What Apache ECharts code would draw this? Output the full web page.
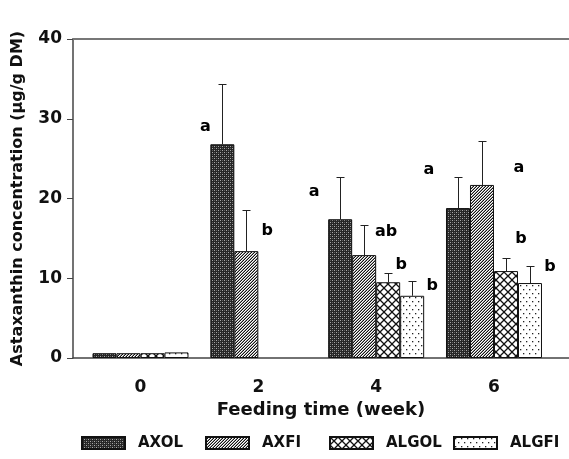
<!DOCTYPE html>
<html>
<head>
<meta charset="utf-8">
<script src="https://cdn.jsdelivr.net/npm/echarts@6/dist/echarts.min.js"></script>
<style>
html,body{margin:0;padding:0;background:#fff;}
#chart{width:569px;height:459px;}
</style>
</head>
<body>
<div id="chart"></div>
<script>
// ---- data ----
const weeks = [0, 2, 4, 6];
const weekLabels = ['0', '2', '4', '6'];
const seriesNames = ['AXOL', 'AXFI', 'ALGOL', 'ALGFI'];
const axol = [0.6, 26.8, 17.4, 18.8];
const axolErr = [0, 7.6, 5.3, 3.9];
const axfi = [0.6, 13.4, 12.9, 21.7];
const axfiErr = [0, 5.2, 3.8, 5.5];
const algol = [0.6, null, 9.5, 10.9];
const algolErr = [0, null, 1.1, 1.6];
const algfi = [0.7, null, 7.8, 9.4];
const algfiErr = [0, null, 1.9, 2.1];
const yTicks = [0, 10, 20, 30, 40];

// significance letters: text, week group, y level (data units)
const letterText = ['a', 'b', 'a', 'ab', 'b', 'b', 'a', 'a', 'b', 'b'];
const letterWeek = [2, 2, 4, 4, 4, 4, 6, 6, 6, 6];
const letterLevel = [29.0, 15.9, 20.8, 15.8, 11.7, 9.0, 23.6, 23.8, 15.0, 11.4];

// ---- style ----
const letterDx = [-53, 9, -62, 10, 25, 56, -65, 25, 27, 56];
const BAR_W = 24;
const FONT = '"DejaVu Sans", Verdana, sans-serif';
const X_MIN = -1.1456, X_MAX = 7.273;

function makePattern(w, h, draw) {
  const c = document.createElement('canvas');
  c.width = w; c.height = h;
  const ctx = c.getContext('2d');
  draw(ctx, w, h);
  return { image: c, repeat: 'repeat' };
}
const patAXOL = makePattern(4, 4, (ctx) => {
  ctx.fillStyle = '#262626'; ctx.fillRect(0, 0, 4, 4);
  ctx.fillStyle = '#a8a8a8'; ctx.fillRect(0, 0, 1, 1); ctx.fillRect(2, 2, 1, 1);
  ctx.fillStyle = '#606060'; ctx.fillRect(2, 0, 1, 1); ctx.fillRect(0, 2, 1, 1);
});
const patAXFI = makePattern(3, 3, (ctx) => {
  ctx.fillStyle = '#ffffff'; ctx.fillRect(0, 0, 3, 3);
  for (let x = 0; x < 3; x++) for (let y = 0; y < 3; y++) {
    const k = (x + y) % 3;
    if (k === 2) { ctx.fillStyle = '#111'; ctx.fillRect(x, y, 1, 1); }
    else if (k === 1) { ctx.fillStyle = '#9a9a9a'; ctx.fillRect(x, y, 1, 1); }
  }
});
const patALGOL = makePattern(8, 8, (ctx) => {
  ctx.fillStyle = '#ffffff'; ctx.fillRect(0, 0, 8, 8);
  ctx.strokeStyle = '#111'; ctx.lineWidth = 1.3;
  ctx.beginPath();
  ctx.moveTo(-1, -1); ctx.lineTo(9, 9);
  ctx.moveTo(9, -1); ctx.lineTo(-1, 9);
  ctx.stroke();
});
const patALGFI = makePattern(6, 8, (ctx) => {
  ctx.fillStyle = '#ffffff'; ctx.fillRect(0, 0, 6, 8);
  ctx.fillStyle = '#222';
  ctx.fillRect(1, 1, 1.3, 1.3);
  ctx.fillRect(4, 5, 1.3, 1.3);
});
const patterns = [patAXOL, patAXFI, patALGOL, patALGFI];
const values = [axol, axfi, algol, algfi];
const errs = [axolErr, axfiErr, algolErr, algfiErr];

const series = [];
seriesNames.forEach((name, i) => {
  const data = [];
  weeks.forEach((w, j) => { if (values[i][j] != null) data.push([w, values[i][j]]); });
  series.push({
    name: name, type: 'bar', barWidth: BAR_W, barGap: '0%',
    data: data,
    itemStyle: { color: patterns[i], borderColor: '#111', borderWidth: 1 },
    emphasis: { disabled: true },
    z: 2
  });
});
seriesNames.forEach((name, i) => {
  const data = [];
  weeks.forEach((w, j) => {
    if (values[i][j] != null && errs[i][j] > 0) data.push([w, values[i][j], errs[i][j]]);
  });
  series.push({
    type: 'custom', z: 3,
    data: data,
    renderItem: function (params, api) {
      const x = api.value(0), y = api.value(1), e = api.value(2);
      const p0 = api.coord([x, y]);
      const p1 = api.coord([x, y + e]);
      const cx = Math.round(p0[0] + (i - 1.5) * BAR_W) + 0.5;
      const top = Math.round(p1[1]) + 0.5;
      return {
        type: 'group',
        children: [
          { type: 'line', shape: { x1: cx, y1: p0[1], x2: cx, y2: top }, style: { stroke: '#222', lineWidth: 1 } },
          { type: 'line', shape: { x1: cx - 4, y1: top, x2: cx + 4, y2: top }, style: { stroke: '#222', lineWidth: 1 } }
        ]
      };
    }
  });
});
series.push({
  type: 'custom', z: 4, silent: true,
  data: letterText.map((t, k) => [letterWeek[k], letterLevel[k], k]),
  renderItem: function (params, api) {
    const k = api.value(2);
    const p = api.coord([api.value(0), api.value(1)]);
    return {
      type: 'text',
      style: {
        x: p[0] + letterDx[k], y: p[1], text: letterText[k],
        fill: '#000', font: 'bold 16px ' + FONT,
        align: 'center', verticalAlign: 'middle'
      }
    };
  }
});

const legendLefts = [81, 205, 329, 453];
const legends = seriesNames.map((n, i) => ({
  data: [n], left: legendLefts[i], top: 435, padding: 0,
  itemWidth: 43, itemHeight: 12, icon: 'rect',
  selectedMode: false,
  textStyle: { fontFamily: FONT, fontWeight: 'bold', fontSize: 15, color: '#111', lineHeight: 16, padding: [0, 0, 0, 8] }
}));

const chart = echarts.init(document.getElementById('chart'), null, { renderer: 'canvas' });
chart.setOption({
  animation: false,
  backgroundColor: '#fff',
  grid: { left: 73, right: 0, top: 39, bottom: 101 },
  legend: legends,
  xAxis: [{
    type: 'value', min: X_MIN, max: X_MAX,
    name: 'Feeding time (week)', nameLocation: 'middle', nameGap: 43,
    nameTextStyle: { fontFamily: FONT, fontWeight: 'bold', fontSize: 18, color: '#111' },
    axisLine: { show: true, onZero: false, lineStyle: { color: '#444', width: 1.5 } },
    axisTick: { show: false },
    splitLine: { show: false },
    axisLabel: {
      customValues: weeks, formatter: (v) => weekLabels[weeks.indexOf(v)] || '',
      margin: 21, fontFamily: FONT, fontWeight: 'bold', fontSize: 17, color: '#111'
    }
  }, {
    type: 'value', min: X_MIN, max: X_MAX, position: 'top',
    axisLine: { show: true, onZero: false, lineStyle: { color: '#777', width: 2 } },
    axisTick: { show: false }, axisLabel: { show: false }, splitLine: { show: false }
  }],
  yAxis: {
    type: 'value', min: 0, max: 40, interval: 10,
    name: 'Astaxanthin concentration (μg/g DM)', nameLocation: 'middle', nameGap: 47,
    nameTextStyle: { fontFamily: FONT, fontWeight: 'bold', fontSize: 16, color: '#111' },
    axisLine: { show: true, onZero: false, lineStyle: { color: '#444', width: 1.5 } },
    axisTick: { show: true, length: 6, lineStyle: { color: '#444' } },
    splitLine: { show: false },
    axisLabel: {
      margin: 11, fontFamily: FONT, fontWeight: 'bold', fontSize: 17, color: '#111',
      formatter: (v) => (yTicks.indexOf(v) >= 0 ? String(v) : '')
    }
  },
  series: series
});
</script>
</body>
</html>
